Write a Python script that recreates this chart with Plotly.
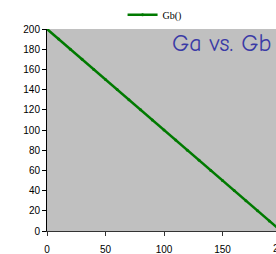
import plotly.graph_objects as go

ga = [0, 10, 20, 30, 40, 50, 60, 70, 80, 90, 100, 110, 120, 130, 140, 150, 160, 170, 180, 190, 200]
gb = [200, 190, 180, 170, 160, 150, 140, 130, 120, 110, 100, 90, 80, 70, 60, 50, 40, 30, 20, 10, 0]
x_ticks = [0, 50, 100, 150]
y_ticks = [0, 20, 40, 60, 80, 100, 120, 140, 160, 180, 200]

fig = go.Figure()
fig.add_trace(go.Scatter(
    x=ga, y=gb, mode="lines+markers", name="Gb()",
    line=dict(color="#007a00", width=2.5),
    marker=dict(color="#007a00", size=3),
))

fig.update_layout(
    width=276, height=254,
    margin=dict(l=47, r=0, t=29, b=23),
    paper_bgcolor="white", plot_bgcolor="#c0c0c0",
    showlegend=True,
    legend=dict(orientation="h", x=0.33, y=1.07, xanchor="left", yanchor="middle",
                font=dict(family="Liberation Serif", size=10, color="black"),
                bgcolor="rgba(0,0,0,0)", itemwidth=30),
    font=dict(family="Liberation Sans", size=10, color="black"),
)
fig.update_xaxes(range=[0, 195.7], tickvals=x_ticks, showgrid=False, zeroline=False,
                 showline=True, linecolor="#333333", linewidth=1,
                 ticks="outside", ticklen=4, tickcolor="#333333", automargin=False,
                 ticklabelstandoff=5, tickfont=dict(size=10))
fig.update_yaxes(range=[0, 200], tickvals=y_ticks, showgrid=False, zeroline=False,
                 showline=True, linecolor="black", linewidth=1, automargin=False,
                 ticks="outside", ticklen=4, tickcolor="black", tickfont=dict(size=10))

fig.add_annotation(text="200", xref="paper", yref="paper", x=(281 - 47) / 229, y=-(248.5 - 231) / 202,
                   showarrow=False, xanchor="center", yanchor="middle",
                   font=dict(family="Liberation Sans", size=10, color="black"))
fig.add_annotation(text="Ga vs. Gb", xref="paper", yref="paper", x=(170 - 47) / 229, y=1 - (43 - 29) / 202,
                   showarrow=False, xanchor="left", yanchor="middle",
                   font=dict(family="Comic Sans MS, Comic Neue, DejaVu Sans", size=24, color="#3a3aa6"))

fig.write_html("out.html", config={"displayModeBar": False},
               post_script="document.body.style.margin='0';document.body.style.overflow='hidden';")
